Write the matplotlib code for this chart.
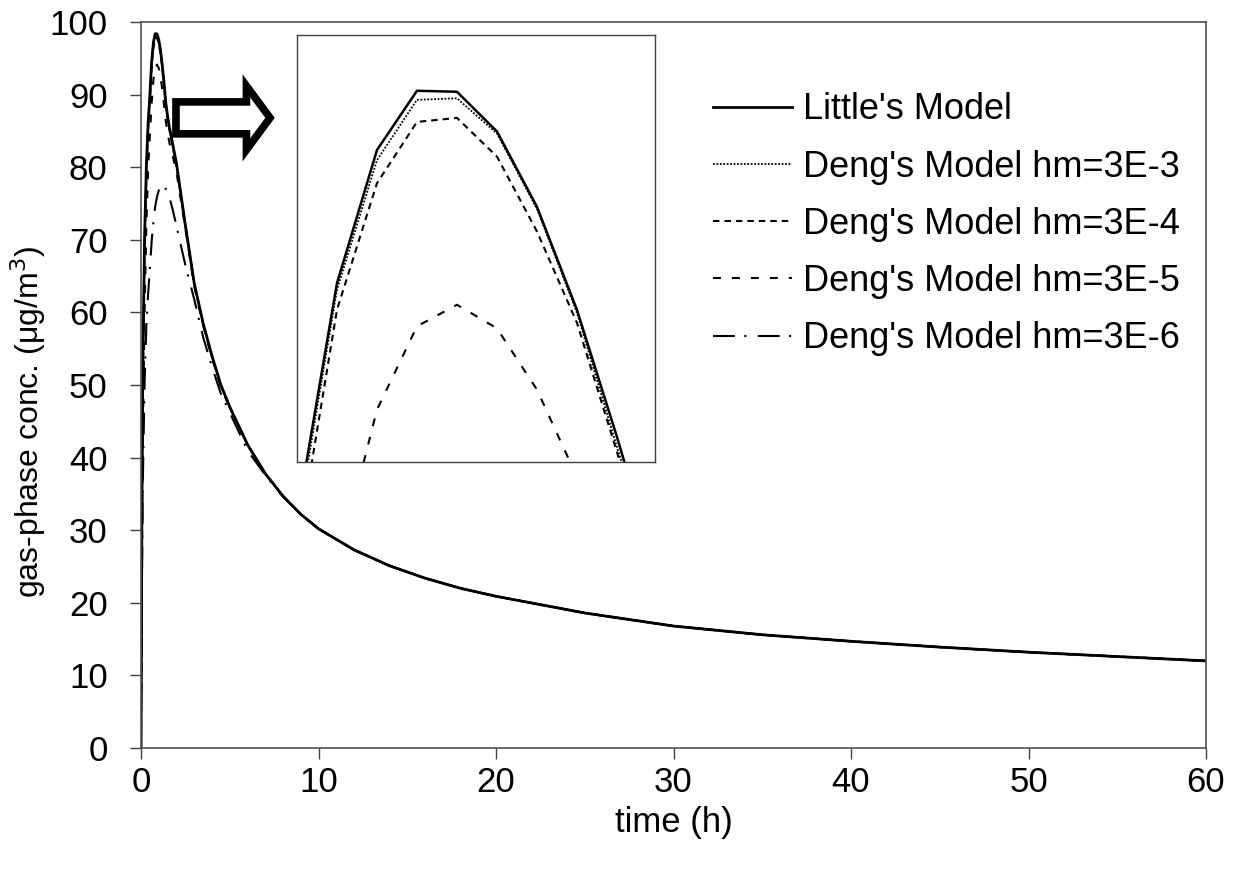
import matplotlib
matplotlib.use('Agg')
import matplotlib.pyplot as plt

plt.rcParams['font.family'] = ['Liberation Sans', 'DejaVu Sans']

# time (h)
time = [0, 0.05, 0.1, 0.2, 0.3, 0.4, 0.5, 0.6, 0.7, 0.8, 0.9, 1.0, 1.1, 1.2, 1.3, 1.4,
        1.5, 1.6, 1.8, 2.0, 2.5, 3.0, 3.5, 4.0, 4.5, 5.0, 6.0, 7.0, 8.0, 9.0, 10.0,
        12.0, 14.0, 16.0, 18.0, 20.0, 25.0, 30.0, 35.0, 40.0, 45.0, 50.0, 55.0, 60.0]

# tail shared by all models after ~5 h
tail = [41.8, 37.8, 34.7, 32.2, 30.2, 27.3, 25.1, 23.4, 22.0, 20.9, 18.6, 16.8, 15.6,
        14.7, 13.9, 13.2, 12.6, 12.0]

little = [0, 32, 52, 70, 80, 86, 89.9, 94.56, 97.21, 98.39, 98.37, 97.58, 96.08, 94.03,
          91.5, 88.8, 87.0, 85.5, 83.0, 80.5, 72.0, 64.0, 58.5, 54.0, 50.0, 47.0] + tail
deng_3e3 = [0, 32, 52, 70, 80, 86, 89.7, 94.43, 97.01, 98.21, 98.24, 97.54, 96.04, 93.97,
            91.3, 88.7, 86.9, 85.4, 82.9, 80.4, 72.0, 64.0, 58.5, 54.0, 50.0, 47.0] + tail
deng_3e4 = [0, 31, 50, 68.5, 79, 85.2, 89.2, 94.03, 96.55, 97.77, 97.85, 97.08, 95.59, 93.77,
            91.2, 88.5, 86.7, 85.2, 82.7, 80.2, 71.9, 63.9, 58.4, 53.9, 49.9, 46.9] + tail
deng_3e5 = [0, 25, 42, 60, 72, 79.5, 84.5, 88.9, 92.04, 93.70, 94.13, 93.66, 92.44, 90.7,
            88.5, 86.3, 84.7, 83.4, 81.4, 79.3, 71.5, 63.6, 58.2, 53.7, 49.8, 46.8] + tail
deng_3e6 = [0, 22, 36, 50, 58, 62.5, 66, 69.8, 72.5, 74.6, 75.9, 76.8, 77.3, 77.5, 77.4, 77.0,
            76.5, 75.9, 74.0, 71.9, 66.5, 61.8, 56.6, 52.5, 48.8, 46.2, 41.0, 37.6, 34.6,
            32.2, 30.2, 27.3, 25.1, 23.4, 22.0, 20.9, 18.6, 16.8, 15.6, 14.7, 13.9, 13.2,
            12.6, 12.0]

labels = ["Little's Model", "Deng's Model hm=3E-3", "Deng's Model hm=3E-4",
          "Deng's Model hm=3E-5", "Deng's Model hm=3E-6"]
series = [little, deng_3e3, deng_3e4, deng_3e5, deng_3e6]

styles = [dict(ls='-', lw=2.0),
          dict(ls=(0, (1, 0.9)), lw=1.3),
          dict(ls=(0, (3.1, 2.4)), lw=1.5),
          dict(ls=(0, (3.8, 5.3)), lw=1.5),
          dict(ls=(0, (10.5, 4.5, 1, 5.5)), lw=1.5)]

fig = plt.figure(figsize=(12.39, 8.71), dpi=100)
ax = fig.add_axes([0.1138, 0.1412, 0.8596, 0.8335])

for y, lab, st in zip(series, labels, styles):
    ax.plot(time, y, color='black', label=lab, **st)

ax.set_xlim(0, 60)
ax.set_ylim(0, 100)
ax.set_xticks(range(0, 61, 10))
ax.set_yticks(range(0, 101, 10))
ax.tick_params(axis='both', direction='out', length=8, width=1, colors='#404040',
               labelcolor='black', labelsize=25)
ax.tick_params(axis='y', pad=16)
ax.tick_params(axis='x', pad=5)
for s in ax.spines.values():
    s.set_color('#505050')
    s.set_linewidth(1.2)

ax.set_xlabel('time (h)', fontsize=25, labelpad=5)
ax.set_ylabel('gas-phase conc. (μg/m$^3$)', fontsize=23)
ax.yaxis.set_label_coords(-0.087, 0.45)

ax.legend(loc='upper left', bbox_to_anchor=(0.5755, 0.894), bbox_transform=fig.transFigure,
          frameon=False, fontsize=26, handlelength=2.2, handletextpad=0.3,
          labelspacing=0.615, borderaxespad=0, borderpad=0)

# hollow block arrow pointing at the inset
ax.annotate('', xy=(7.27, 86.8), xytext=(1.97, 86.8),
            arrowprops=dict(arrowstyle='simple,head_length=17,head_width=46,tail_width=23',
                            mutation_scale=1, fc='white', ec='black', lw=5.5,
                            shrinkA=0, shrinkB=0, joinstyle='miter'))

# inset zoom of the peak
axin = fig.add_axes([0.2397, 0.4696, 0.2889, 0.4902])
for y, st in zip(series[:4], styles[:4]):
    st2 = dict(st)
    if st2['ls'] == '-':
        st2['lw'] = 1.8
    axin.plot(time, y, color='black', **st2)
axin.set_xlim(0.5, 1.395)
axin.set_ylim(91, 99.5)
axin.set_xticks([])
axin.set_yticks([])
for s in axin.spines.values():
    s.set_color('#404040')
    s.set_linewidth(1.0)

fig.savefig('out.png', dpi=100)
